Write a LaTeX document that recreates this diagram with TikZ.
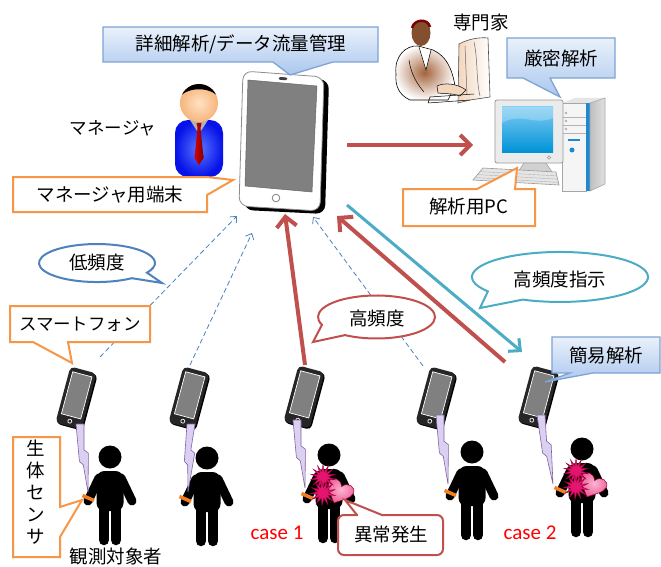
\documentclass[tikz,border=0pt]{standalone}
\usepackage{fontspec}
\newfontfamily\jpfont{Noto Sans CJK JP}
\newfontfamily\latfont{Carlito}
\usetikzlibrary{arrows.meta,shapes.geometric,calc}

\definecolor{callblueA}{HTML}{EAF1FB}
\definecolor{callblueB}{HTML}{AAC7EE}
\definecolor{callblueline}{HTML}{7EA3D4}
\definecolor{offorange}{HTML}{F79646}
\definecolor{offred}{HTML}{C0504D}
\definecolor{offblue}{HTML}{4F81BD}
\definecolor{offcyan}{HTML}{4BACC6}
\definecolor{boltfill}{HTML}{DCD0F2}
\definecolor{boltline}{HTML}{8064A2}
\definecolor{skinA}{HTML}{FFE2C4}
\definecolor{skinB}{HTML}{F7B57C}
\definecolor{suitA}{HTML}{5A78FF}
\definecolor{suitB}{HTML}{0612E8}
\definecolor{burst}{HTML}{E3156E}
\definecolor{burstdark}{HTML}{A0003C}
\definecolor{heartA}{HTML}{FBB6D2}
\definecolor{heartB}{HTML}{EE5C98}
\definecolor{bandorange}{HTML}{F57F20}
\definecolor{screenblueA}{HTML}{7ECBF3}
\definecolor{screenblueB}{HTML}{0093D6}
\definecolor{towerblue}{HTML}{1E88D0}
\definecolor{brownA}{HTML}{A4633B}
\definecolor{peach}{HTML}{F3D6BE}

% one stick figure, head centre at (#1,#2)
\newcommand{\stickperson}[2]{%
  \begin{scope}[shift={(#1,#2)}]
    \fill[black] (0,0) circle[radius=11.5];
    \fill[black, rounded corners=8] (-13.5,14) rectangle (13.5,54);
    \draw[black, line width=9pt, line cap=round] (-11,21) -- (-22,44);
    \draw[black, line width=9pt, line cap=round] (11,21) -- (22,44);
    \draw[black, line width=10.5pt, line cap=round] (-6,50) -- (-6,83);
    \draw[black, line width=10.5pt, line cap=round] (6,50) -- (6,83);
    \draw[bandorange, line width=3.5pt] (-27.5,38.5) -- (-16,43.5);
  \end{scope}}

% smartphone, centre (#1,#2), tilted by #3
\newcommand{\handset}[3]{%
  \begin{scope}[shift={(#1,#2)}, rotate=#3]
    \fill[black, rounded corners=4.5] (-12.5,-28) rectangle (15,30);
    \fill[black!85, rounded corners=4.5] (-13.5,-29) rectangle (13.5,29);
    \filldraw[fill=black!50, draw=white, line width=0.7pt] (-10,-24.5) rectangle (10,19);
    \draw[white, line width=0.7pt] (0,24) circle[radius=2];
  \end{scope}}

% lightning bolt from coordinate #1 down to coordinate #2
\newcommand{\zapline}[2]{%
  \filldraw[fill=boltfill, draw=boltline, line width=0.6pt, line join=miter]
    ($(#1)+(-4,0)$) -- ($(#1)+(4,0)$) -- ($(#1)!0.38!(#2)+(1,0)$)
    -- ($(#1)!0.43!(#2)+(5,0)$) -- (#2) -- ($(#1)!0.6!(#2)+(-1.5,0)$)
    -- ($(#1)!0.55!(#2)+(-5,0)$) -- cycle;}

% heart with burst marks, relative to the head centre (#1,#2), node prefix #3
\newcommand{\heartburst}[3]{%
  \begin{scope}[shift={(#1,#2)}]
    \begin{scope}[shift={(10,37)}, rotate=-25]
      \shade[inner color=heartA, outer color=heartB, draw=burstdark, line width=0.5pt]
        (0,12) .. controls (-6,6) and (-13.5,1) .. (-13.5,-5)
        .. controls (-13.5,-11.5) and (-4,-13.5) .. (0,-6)
        .. controls (4,-13.5) and (13.5,-11.5) .. (13.5,-5)
        .. controls (13.5,1) and (6,6) .. (0,12) -- cycle;
    \end{scope}
    \node[star, star points=14, star point ratio=2.3, minimum size=25pt, inner sep=0pt,
          fill=burst, draw=burstdark, line width=0.4pt] (#3a) at (-6,22) {};
    \node[star, star points=13, star point ratio=2.3, minimum size=25pt, inner sep=0pt,
          fill=burst, draw=burstdark, line width=0.4pt, rotate=9] (#3b) at (-6,38) {};
  \end{scope}}

\begin{document}
\begin{tikzpicture}[x=1pt, y=-1pt,
  jptext/.style={font=\jpfont\fontsize{18.5}{22}\selectfont, inner sep=0pt},
  bluecall/.style={draw=callblueline, line width=1.3pt, top color=callblueA, bottom color=callblueB, line join=miter},
  orangecall/.style={draw=offorange, line width=2pt, fill=white, line join=miter},
  ellcall/.style={line width=2pt, fill=white, line join=miter},
  lowrate/.style={draw=offblue, line width=0.8pt, dash pattern=on 5pt off 3pt,
                  -{Straight Barb[length=5pt,width=9pt]}},
  highrate/.style={draw=offred, line width=4pt, -{Straight Barb[length=10pt,width=20pt]}},
  command/.style={draw=offcyan, line width=3pt, -{Straight Barb[length=9pt,width=17pt]}},
  caselabel/.style={font=\latfont\fontsize{21}{24}\selectfont, text=red, inner sep=0pt}]

\useasboundingbox (0,0) rectangle (661,567);
\fill[white] (0,0) rectangle (661,567);

% ---------- expert at his desk ----------
\shade[left color=peach, right color=white, draw=black!70, line width=0.6pt]
  (459,44) .. controls (468,39) and (480,37) .. (488,38) -- (490,97) -- (470,100) -- (458,103) -- cycle;
\draw[black!60, line width=0.5pt] (465,46) -- (467,95) (474,42) .. controls (478,60) and (476,80) .. (480,96);
\shade[inner color=brownA, outer color=white, draw=black, line width=0.6pt]
  (396,74) .. controls (394,56) and (406,45) .. (418,46) -- (433,50)
  .. controls (446,56) and (452,68) .. (455,86) -- (448,100) -- (410,100)
  .. controls (399,95) and (395,86) .. (396,74) -- cycle;
\fill[white] (419,47) -- (431,50) -- (426,70) -- cycle;
\draw[black, line width=0.5pt] (419,47) -- (426,70) -- (431,50) (409,60) .. controls (411,75) and (418,85) .. (424,92);
\fill[brownA!80!black] (421,33) ellipse[x radius=9.5, y radius=13];
\draw[red!50!black, line width=2.5pt] (412,28) .. controls (414,19) and (428,18) .. (430,27);
\filldraw[fill=peach, draw=black, line width=0.5pt] (437,86) .. controls (445,82) and (458,84) .. (466,90) -- (460,96) .. controls (452,93) and (444,94) .. (438,93) -- cycle;
\draw[black, line width=0.5pt] (430,97) -- (474,94) (428,103) -- (470,100) (430,97) -- (428,103);
\node[jptext] (expertlbl) at (481,22) {専門家};

% ---------- analysis PC ----------
\fill[black!10] (562,103) -- (575,98) -- (605,98) -- (590,103) -- cycle;
\filldraw[fill=black!4, draw=black!35, line width=0.6pt] (562,103) rectangle (586,191);
\fill[towerblue] (586,103) rectangle (590,191);
\shade[left color=black!25, right color=black!12, draw=black!35, line width=0.6pt]
  (590,103) -- (605,98) -- (605,184) -- (590,191) -- cycle;
\foreach \yy in {113,121,129} {
  \draw[black!30, line width=0.5pt] (562,\yy+4) -- (586,\yy+4);
  \draw[black!40, line width=0.4pt] (566,\yy) circle[radius=1.2];
}
\draw[towerblue, line width=1.5pt] (568,140) -- (580,140);
\fill[towerblue] (572,150) circle[radius=2.5];
\filldraw[fill=black!8, draw=black!40, line width=0.8pt, rounded corners=2] (495,100) rectangle (563,163);
\shade[top color=screenblueA, bottom color=screenblueB] (502,107) rectangle (553,152);
\fill[white, opacity=0.25] (502,107) -- (553,107) -- (553,118) .. controls (535,126) and (520,112) .. (502,123) -- cycle;
\draw[black!40, line width=0.5pt] (549,157.5) circle[radius=1.7];
\filldraw[fill=black!18, draw=black!40, line width=0.5pt] (524,163) -- (546,163) -- (552,172) -- (518,172) -- cycle;
\filldraw[fill=black!10, draw=black!40, line width=0.6pt] (483,168) -- (556,172) -- (559,185) -- (473,180) -- cycle;
\foreach \t in {0.3,0.55,0.8} \draw[black!30, line width=0.4pt] ($(483,168)!\t!(473,180)$) -- ($(556,172)!\t!(559,185)$);

% ---------- manager ----------
\shade[inner color=suitA, outer color=suitB, rounded corners=13] (175,120) rectangle (223,177);
\fill[black!30] (190,120) -- (208,120) -- (199,134) -- cycle;
\shade[left color=red!85!black, right color=red!50!black]
  (196.5,123) -- (201.5,123) -- (200.5,128) -- (203.5,158) -- (199,165) -- (194.5,158) -- (197.5,128) -- cycle;
\shade[inner color=skinA, outer color=skinB] (199,103) circle[radius=19];
\begin{scope}
  \clip (199,103) circle[radius=19];
  \fill[black] (178,80) -- (220,80) -- (220,99) .. controls (212,86) and (186,86) .. (178,99) -- cycle;
\end{scope}
\node[jptext, font=\jpfont\fontsize{17.5}{21}\selectfont] (mgrlbl) at (113,128) {マネージャ};

% ---------- manager's tablet ----------
\fill[black, rounded corners=9] (248,74) -- (329,80) -- (325,214) -- (244,210) -- cycle;
\filldraw[fill=white, draw=black!45, line width=0.8pt, rounded corners=9] (243,71) -- (324,77) -- (320,211) -- (239,206) -- cycle;
\filldraw[fill=black!50, draw=black!60, line width=0.5pt] (248,80) -- (317,86) -- (312,192) -- (245,186) -- cycle;
\draw[black!50, line width=0.8pt] (276,198) circle[radius=3.8];
\draw[black!75, line width=2.8pt, line cap=round] (280,78.4) -- (286,78.8);
\coordinate (tabin1) at (237,216);
\coordinate (tabin2) at (252,233);
\coordinate (tabin3) at (285,214);
\coordinate (tabin4) at (313,217);
\coordinate (tabin5) at (337,216);
\coordinate (tabout) at (347,205);
\coordinate (tabright) at (347,145);
\coordinate (pcin) at (473,145);

% ---------- callouts, upper half ----------
\draw[bluecall] (103,27) -- (378,27) -- (378,62) -- (333,62) -- (290,75) -- (273,62) -- (103,62) -- cycle;
\node[jptext] (detail) at (241,44) {詳細解析/データ流量管理};

\draw[orangecall] (13,177) -- (207,177) -- (233,180) -- (207,195) -- (207,212) -- (13,212) -- cycle;
\node[jptext] (mgrterm) at (110,195) {マネージャ用端末};

\draw[bluecall] (507,38) -- (615,38) -- (615,78) -- (550,78) -- (560,97) -- (523,78) -- (507,78) -- cycle;
\node[jptext] (strict) at (561,58) {厳密解析};

\draw[orangecall] (403,189) -- (477,189) -- (517,168) -- (515,189) -- (535,189) -- (535,226) -- (403,226) -- cycle;
\node[jptext] (pclbl) at (469,207) {解析用PC};

% ---------- smartphones ----------
\handset{76}{398}{-15}
\handset{189}{398}{-15}
\handset{304}{397}{-15}
\handset{436}{398}{-15}
\handset{538}{397}{-15}
\coordinate (ph1out) at (100,357);
\coordinate (ph2out) at (190,365);
\coordinate (ph3out) at (305,365);
\coordinate (ph4out) at (423,366);
\coordinate (ph5out) at (505,362);
\coordinate (ph5in) at (522,352);

% ---------- data flows ----------
\draw[lowrate] (ph1out) -- (tabin1);
\draw[lowrate] (ph2out) -- (tabin2);
\draw[lowrate] (ph4out) -- (tabin4);
\draw[highrate] (ph3out) -- (tabin3);
\draw[highrate] (ph5out) -- (tabin5);
\draw[highrate] (tabright) -- (pcin);
\draw[command] (tabout) -- (ph5in);

% ---------- speech bubbles ----------
\draw[ellcall, draw=offblue] (131.9,278.2) arc[start angle=53, end angle=390.5, x radius=58, y radius=19] -- (162,283) -- cycle;
\node[jptext] (lowlbl) at (97,263) {低頻度};

\draw[ellcall, draw=offred] (322,324.8) arc[start angle=158.7, end angle=482.6, x radius=58.5, y radius=21.5] -- (313,342) -- cycle;
\node[jptext] (highlbl) at (377,318) {高頻度};

\draw[ellcall, draw=offcyan] (487.9,291.3) arc[start angle=145, end angle=475, x radius=88, y radius=25] -- (480,308) -- cycle;
\node[jptext] (cmdlbl) at (560,279) {高頻度指示};

\draw[orangecall] (10,306) -- (150,306) -- (150,342) -- (68,342) -- (72,363) -- (33,342) -- (10,342) -- cycle;
\node[jptext, font=\jpfont\fontsize{17.5}{21}\selectfont] (phonelbl) at (80,324) {スマートフォン};

\draw[bluecall] (552,337) -- (660,337) -- (660,373) -- (593,373) -- (545,382) -- (570,373) -- (552,373) -- cycle;
\node[jptext] (simple) at (606,355) {簡易解析};

% ---------- observed people ----------
\stickperson{110}{457}
\stickperson{207}{458}
\stickperson{329}{455}
\stickperson{472}{452}
\stickperson{582}{449}
\heartburst{329}{455}{hbA}
\heartburst{582}{449}{hbB}

\coordinate (z1a) at (80,424);  \coordinate (z1b) at (88,492);
\coordinate (z2a) at (191,424); \coordinate (z2b) at (188,492);
\coordinate (z3a) at (297,420); \coordinate (z3b) at (305,488);
\coordinate (z4a) at (440,415); \coordinate (z4b) at (448,484);
\coordinate (z5a) at (541,415); \coordinate (z5b) at (553,484);
\zapline{z1a}{z1b}
\zapline{z2a}{z2b}
\zapline{z3a}{z3b}
\zapline{z4a}{z4b}
\zapline{z5a}{z5b}

% ---------- lower labels ----------
\draw[orangecall] (13,437) -- (60,437) -- (60,507) -- (82,500) -- (60,537) -- (60,557) -- (13,557) -- cycle;
\node[jptext, align=center] (sensor) at (36,492) {生\\体\\セ\\ン\\サ};
\node[jptext] (subjects) at (116,556) {観測対象者};

\node[caselabel] (case1) at (277,533) {case 1};
\node[caselabel] (case2) at (530,533) {case 2};

\filldraw[fill=white, draw=offred, line width=2pt, rounded corners=6] (338,515) rectangle (443,555);
\fill[white] (358,512.5) rectangle (381,517);
\draw[offred, line width=2pt, line join=miter] (357,515) -- (345,500) -- (382,515);
\node[jptext] (alert) at (391,535) {異常発生};

\end{tikzpicture}
\end{document}
